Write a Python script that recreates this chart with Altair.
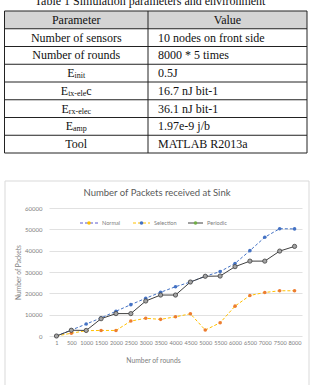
import altair as alt
import pandas as pd

# ---------------- table contents ----------------
caption = "Table 1 Simulation parameters and environment"
param_main = ["Parameter", "Number of sensors", "Number of rounds", "E", "E", "E", "E", "Tool"]
param_sub = ["", "", "", "init", "tx-ele", "rx-elec", "amp", ""]
param_tail = ["", "", "", "", "c", "", "", ""]
param_value = ["Value", "10 nodes on front side", "8000 * 5 times", "0.5J",
               "16.7 nJ bit-1", "36.1 nJ bit-1", "1.97e-9 j/b", "MATLAB R2013a"]

# ---------------- chart series ----------------
rounds = ["1", "500", "1000", "1500", "2000", "2500", "3000", "3500", "4000",
          "4500", "5000", "5500", "6000", "6500", "7000", "7500", "8000"]
normal = [0, 1300, 2500, 2600, 2600, 7000, 8300, 7800, 9000, 10400,
          2800, 6200, 14000, 19000, 20400, 21200, 21200]
selection = [0, 2800, 5600, 8500, 11600, 14700, 17700, 20500, 23100, 25300,
             28000, 30200, 34000, 40000, 46300, 50300, 50200]
periodic = [0, 2700, 2600, 8100, 10500, 10500, 16400, 19200, 19200, 25300,
            28000, 28100, 32500, 35100, 35100, 39800, 42000]
series_names = ["Normal", "Selection", "Periodic"]
y_ticks = [0, 10000, 20000, 30000, 40000, 50000, 60000]

# ---------------- layout ----------------
PAD_L, PAD_T, PAD_R, PAD_B = 49, 208, 11, 49
W, H = 313 - PAD_L - PAD_R, 385 - PAD_T - PAD_B
SANS = "Lato"
SERIF = "Liberation Serif"
GRID = "#d9d9d9"
LABEL = "#808080"

one = pd.DataFrame({"k": [0]})

rows = []
for name, vals in zip(series_names, [normal, selection, periodic]):
    for r, v in zip(rounds, vals):
        rows.append({"series": name, "round": r, "packets": v})
df = pd.DataFrame(rows)

x_enc = alt.X("round:O", sort=rounds, scale=alt.Scale(domain=rounds),
              axis=alt.Axis(title="Number  of rounds", labelAngle=0, labelOverlap=False,
                            labelFont=SANS, labelFontSize=5.6, labelColor=LABEL,
                            labelPadding=4, ticks=False, domain=False, grid=False,
                            titleFont=SANS, titleFontSize=6.8, titleColor=LABEL,
                            titleFontWeight="normal", titleX=104, titleY=24,
                            titleBaseline="middle"))
y_enc = alt.Y("packets:Q", scale=alt.Scale(domain=[0, 60000], nice=False),
              axis=alt.Axis(title="Number  of Packets", values=y_ticks, format="d",
                            labelFont=SANS, labelFontSize=6, labelColor=LABEL,
                            labelPadding=7, ticks=False, domain=False,
                            grid=True, gridColor=GRID, gridWidth=0.8,
                            titleFont=SANS, titleFontSize=6.6, titleColor=LABEL,
                            titleFontWeight="normal", titleX=-31, titleY=64,
                            titleBaseline="middle"))

base = alt.Chart(df).encode(x=x_enc, y=y_enc)

# outer frame of the chart box (outline only, so the axes stay visible)
frame = alt.Chart(one).mark_rect(fillOpacity=0, stroke=GRID, strokeWidth=1).encode(
    x=alt.value(-44), x2=alt.value(260), y=alt.value(-27), y2=alt.value(200))

styles = {
    "Normal": dict(line=dict(stroke="#FFC000", strokeDash=[3, 2], strokeWidth=1),
                   pt=dict(fill="#ED7D31", size=13, strokeWidth=0)),
    "Selection": dict(line=dict(stroke="#4472C4", strokeDash=[3, 2], strokeWidth=1),
                      pt=dict(fill="#4472C4", size=13, strokeWidth=0)),
    "Periodic": dict(line=dict(stroke="#404040", strokeWidth=1),
                     pt=dict(fill="#A5A5A5", stroke="#404040", strokeWidth=0.8, size=18)),
}

series_layers = []
for name in series_names:
    st = styles[name]
    f = base.transform_filter(alt.datum.series == name)
    series_layers.append(f.mark_line(**st["line"]))
    series_layers.append(f.mark_point(shape="circle", filled=True, opacity=1, **st["pt"]))

# chart title
title = alt.Chart(one).mark_text(text="Number of Packets received at Sink", font=SANS,
                                 fontSize=9.5, color="#595959", align="center",
                                 baseline="middle").encode(x=alt.value(108), y=alt.value(-15))

# legend entries (line swatch, marker, label)
legend_layers = []
leg_line_col = ["#5a5ad0", "#FFC000", "#404040"]
leg_dash = [[3, 2], [3, 2], [1, 0]]
leg_mark_col = ["#FFC000", "#4472C4", "#70AD47"]
leg_x0 = [31, 84, 139]
leg_len = [18, 17, 15]
for i, name in enumerate(series_names):
    x0 = leg_x0[i]
    legend_layers.append(alt.Chart(one).mark_rule(stroke=leg_line_col[i], strokeDash=leg_dash[i],
                                                  strokeWidth=1).encode(
        x=alt.value(x0), x2=alt.value(x0 + leg_len[i]), y=alt.value(15)))
    legend_layers.append(alt.Chart(one).mark_point(shape="circle", filled=True, opacity=1,
                                                   fill=leg_mark_col[i], size=13,
                                                   strokeWidth=0).encode(
        x=alt.value(x0 + leg_len[i] / 2), y=alt.value(15)))
    legend_layers.append(alt.Chart(one).mark_text(text=name, font=SANS, fontSize=5.6,
                                                  color=LABEL, align="left",
                                                  baseline="middle").encode(
        x=alt.value(x0 + leg_len[i] + 4), y=alt.value(15)))

chart_group = alt.layer(frame, *series_layers, title, *legend_layers)

# ---------------- table ----------------
T_LEFT, T_MID, T_RIGHT = 4.5 - PAD_L, 148 - PAD_L, 307 - PAD_L
n_rows = len(param_main)
row_scale = alt.Scale(domain=[0, n_rows], range=[11 - PAD_T, 153 - PAD_T], nice=False, zero=False)

# glyph advance widths (em) for the serif face, used to centre mixed-size labels
TW = {"E": .611, "i": .278, "n": .5, "t": .278, "x": .5, "-": .333, "e": .444,
      "l": .278, "c": .444, "r": .333, "a": .444, "m": .778, "p": .5}
FS_MAIN, FS_SUB = 12, 8
pc = (T_LEFT + T_MID) / 2


def tw(s, fs):
    return sum(TW.get(ch, .5) for ch in s) * fs


xm, xs, xt = [], [], []
for m, s, t in zip(param_main, param_sub, param_tail):
    if s:
        total = tw(m, FS_MAIN) + tw(s, FS_SUB) + tw(t, FS_MAIN)
        start = pc - total / 2
        xm.append(start)
        xs.append(start + tw(m, FS_MAIN))
        xt.append(start + tw(m, FS_MAIN) + tw(s, FS_SUB))
    else:
        xm.append(pc); xs.append(pc); xt.append(pc)

tbl = pd.DataFrame({"row": list(range(n_rows)), "main": param_main, "sub": param_sub,
                    "tail": param_tail, "value": param_value,
                    "xm": xm, "xs": xs, "xt": xt})
tbl["yc"] = tbl["row"] + 0.5
tbl["y0"] = tbl["row"]
tbl["y1"] = tbl["row"] + 1
tbl["plain"] = [s == "" for s in param_sub]

tb = alt.Chart(tbl)
ycen = alt.Y("yc:Q", scale=row_scale, axis=None)

header_fill = tb.transform_filter(alt.datum.row == 0).mark_rect(fill="#d4d4d4").encode(
    x=alt.value(T_LEFT), x2=alt.value(T_RIGHT),
    y=alt.Y("y0:Q", scale=row_scale, axis=None), y2="y1:Q")

bounds = pd.DataFrame({"b": list(range(n_rows + 1))})
hlines = alt.Chart(bounds).mark_rule(stroke="#222", strokeWidth=1).encode(
    x=alt.value(T_LEFT), x2=alt.value(T_RIGHT), y=alt.Y("b:Q", scale=row_scale, axis=None))
span = pd.DataFrame({"top": [0], "bottom": [n_rows]})
vlines = [alt.Chart(span).mark_rule(stroke="#222", strokeWidth=1).encode(
    x=alt.value(xv), y=alt.Y("top:Q", scale=row_scale, axis=None), y2="bottom:Q")
    for xv in (T_LEFT, T_MID, T_RIGHT)]

txt_kw = dict(font=SERIF, color="#111", baseline="middle")
plain_txt = tb.transform_filter(alt.datum.plain).mark_text(
    fontSize=FS_MAIN, align="center", **txt_kw).encode(
    x=alt.X("xm:Q", scale=None, axis=None), y=ycen, text="main:N")
e_main = tb.transform_filter(~alt.datum.plain).mark_text(
    fontSize=FS_MAIN, align="left", **txt_kw).encode(
    x=alt.X("xm:Q", scale=None, axis=None), y=ycen, text="main:N")
e_sub = tb.transform_filter(~alt.datum.plain).mark_text(
    fontSize=FS_SUB, align="left", dy=3, **txt_kw).encode(
    x=alt.X("xs:Q", scale=None, axis=None), y=ycen, text="sub:N")
e_tail = tb.transform_filter(alt.datum.tail != "").mark_text(
    fontSize=FS_MAIN, align="left", **txt_kw).encode(
    x=alt.X("xt:Q", scale=None, axis=None), y=ycen, text="tail:N")
value_head = tb.transform_filter(alt.datum.row == 0).mark_text(
    fontSize=FS_MAIN, align="center", **txt_kw).encode(
    x=alt.value((T_MID + T_RIGHT) / 2), y=ycen, text="value:N")
value_txt = tb.transform_filter(alt.datum.row > 0).mark_text(
    fontSize=FS_MAIN, align="left", **txt_kw).encode(
    x=alt.value(T_MID + 10), y=ycen, text="value:N")

cap = alt.Chart(one).mark_text(text=caption, font=SERIF, fontSize=12, color="#111",
                               align="center", baseline="alphabetic").encode(
    x=alt.value(150 - PAD_L), y=alt.value(5 - PAD_T))

table_group = alt.layer(header_fill, hlines, *vlines, plain_txt, e_main, e_sub, e_tail,
                        value_head, value_txt, cap)

chart = alt.layer(chart_group, table_group).resolve_scale(
    x="independent", y="independent").properties(
    width=W, height=H,
    autosize=alt.AutoSizeParams(type="none"),
    padding={"left": PAD_L, "top": PAD_T, "right": PAD_R, "bottom": PAD_B},
).configure_view(stroke=None)

chart.save("out.html", embed_options={"renderer": "svg", "actions": False})
